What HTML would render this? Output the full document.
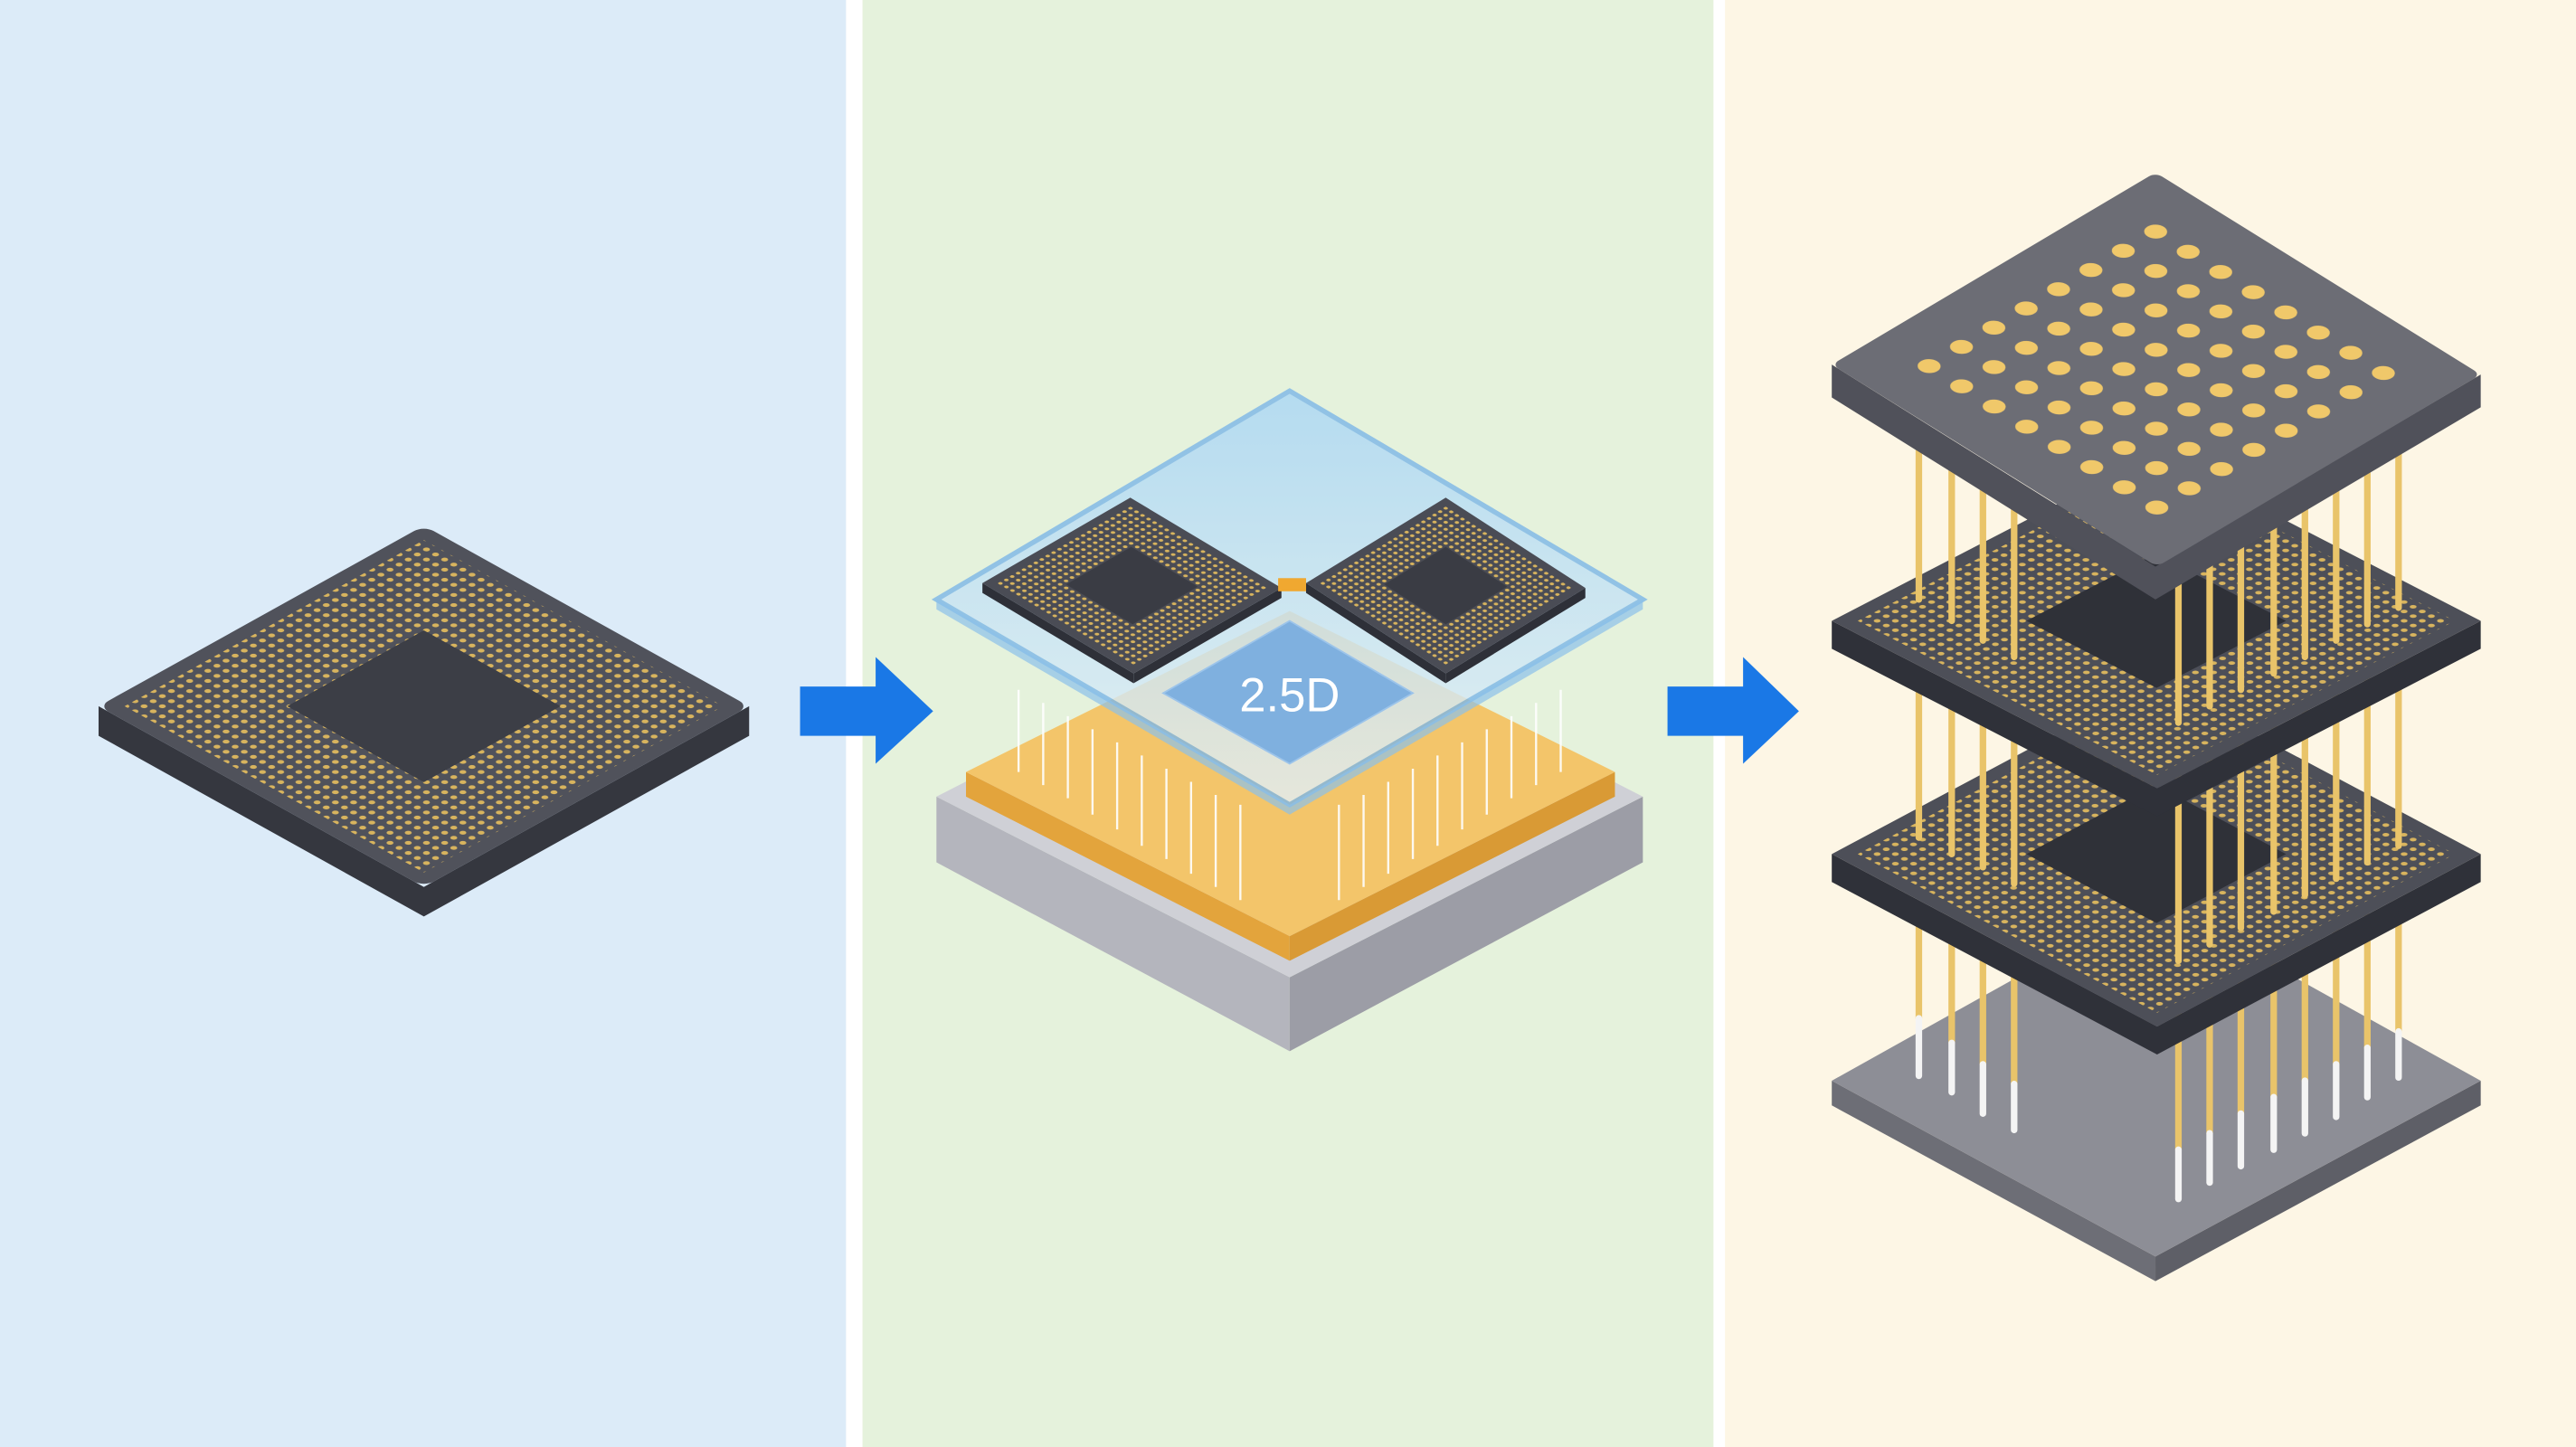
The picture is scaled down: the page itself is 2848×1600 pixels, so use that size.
<!DOCTYPE html>
<html><head><meta charset="utf-8"><style>
html,body{margin:0;padding:0;width:2848px;height:1600px;overflow:hidden;background:#fff}
svg{display:block}
</style></head><body>
<svg width="2848" height="1600" viewBox="0 0 1568 881" preserveAspectRatio="none" xmlns="http://www.w3.org/2000/svg">
<defs>
<pattern id="dots" patternUnits="userSpaceOnUse" width="0.028" height="0.028"><circle cx="0.014" cy="0.014" r="0.0075" fill="#d8b45e"/></pattern>
<pattern id="dots2" patternUnits="userSpaceOnUse" width="0.04" height="0.04"><circle cx="0.02" cy="0.02" r="0.011" fill="#d8b45e"/></pattern>
<pattern id="bigdots" patternUnits="userSpaceOnUse" width="0.1" height="0.1"><circle cx="0.05" cy="0.05" r="0.025" fill="#f0c86a"/></pattern>
<linearGradient id="glass" x1="0" y1="0" x2="0" y2="1"><stop offset="0" stop-color="#a9d6f5"/><stop offset="1" stop-color="#e3f0f8"/></linearGradient>
</defs>
<rect x="0" y="0" width="515" height="881" fill="#dcebf8"/>
<rect x="515" y="0" width="10" height="881" fill="#ffffff"/>
<rect x="525" y="0" width="518" height="881" fill="#e5f2dc"/>
<rect x="1043" y="0" width="7" height="881" fill="#ffffff"/>
<rect x="1050" y="0" width="518" height="881" fill="#fdf6e5"/>

<!-- chip 1 -->
<polygon points="60,430 258,540 456,430 456,448 258,558 60,448" fill="#35373f"/>
<g transform="matrix(198,-110,198,110,60,430)">
<rect x="0" y="0" width="1" height="1" rx="0.03" fill="#50525b"/>
<rect x="0.04" y="0.04" width="0.92" height="0.92" fill="url(#dots)"/>
<rect x="0.29" y="0.29" width="0.42" height="0.42" fill="#3c3e46"/>
</g>

<!-- arrow 1 -->
<rect x="487" y="418" width="48" height="30" fill="#1a78e6"/>
<polygon points="533,400 568,433 533,465" fill="#1a78e6"/>

<!-- panel 2 base -->
<polygon points="570,485 785,595 785,640 570,525" fill="#b4b5bd"/>
<polygon points="785,595 1000,485 1000,525 785,640" fill="#9c9da6"/>
<polygon points="570,485 785,375 1000,485 785,595" fill="#cfd0d6"/>
<polygon points="588,470 785,570 785,585 588,485" fill="#e3a43c"/>
<polygon points="785,570 983,470 983,485 785,585" fill="#d99a35"/>
<polygon points="588,470 785,372 983,470 785,570" fill="#f3c56a"/>
<g stroke="#ffffff" stroke-width="1.3" opacity="0.9" fill="none">
<polyline points="620,420 620,470"/><polyline points="635,428 635,478"/><polyline points="650,436 650,486"/><polyline points="665,444 665,496"/><polyline points="680,452 680,505"/><polyline points="695,460 695,515"/><polyline points="710,468 710,523"/><polyline points="725,476 725,532"/><polyline points="740,484 740,540"/><polyline points="755,490 755,548"/>
<polyline points="815,490 815,548"/><polyline points="830,484 830,540"/><polyline points="845,476 845,532"/><polyline points="860,468 860,523"/><polyline points="875,460 875,515"/><polyline points="890,452 890,505"/><polyline points="905,444 905,496"/><polyline points="920,436 920,486"/><polyline points="935,428 935,478"/><polyline points="950,420 950,470"/>
</g>
<!-- glass interposer -->
<polygon points="570,365 785,238 1000,365 785,490" fill="url(#glass)" opacity="0.8" stroke="#7db7e8" stroke-width="3"/>
<polygon points="570,365 785,490 785,496 570,371" fill="#8cc0ea" opacity="0.7"/>
<polygon points="785,490 1000,365 1000,371 785,496" fill="#8cc0ea" opacity="0.7"/>
<!-- chiplets -->
<polygon points="598,355 690,410 690,416 598,361" fill="#2e3038"/>
<polygon points="690,410 780,358 780,364 690,416" fill="#2e3038"/>
<g transform="matrix(90,-52,92,55,598,355)">
<rect x="0" y="0" width="1" height="1" fill="#4a4c55"/>
<rect x="0.05" y="0.05" width="0.9" height="0.9" fill="url(#dots2)"/>
<rect x="0.28" y="0.28" width="0.44" height="0.44" fill="#3a3c44"/>
</g>
<polygon points="795,355 880,410 880,416 795,361" fill="#2e3038"/>
<polygon points="880,410 965,358 965,364 880,416" fill="#2e3038"/>
<g transform="matrix(85,-52,85,55,795,355)">
<rect x="0" y="0" width="1" height="1" fill="#4a4c55"/>
<rect x="0.05" y="0.05" width="0.9" height="0.9" fill="url(#dots2)"/>
<rect x="0.28" y="0.28" width="0.44" height="0.44" fill="#3a3c44"/>
</g>
<rect x="778" y="352" width="17" height="8" fill="#f0a830"/>
<polygon points="708,422 785,378 860,422 785,465" fill="#7fb0df" stroke="#9cc4ea" stroke-width="1"/>
<text x="785" y="433" text-anchor="middle" font-family="Liberation Sans, sans-serif" font-size="29" fill="#ffffff">2.5D</text>

<!-- arrow 2 -->
<rect x="1015" y="418" width="48" height="30" fill="#1a78e6"/>
<polygon points="1061,400 1095,433 1061,465" fill="#1a78e6"/>

<!-- panel 3 bottom plate -->
<polygon points="1115,658 1312,765 1312,780 1115,673" fill="#6d6e76"/>
<polygon points="1312,765 1510,658 1510,673 1312,780" fill="#5e5f67"/>
<polygon points="1115,658 1312,548 1510,658 1312,765" fill="#8d8e96"/>
<g stroke-width="4" stroke-linecap="round">
<g stroke="#e9c46a">
<line x1="1168" y1="560" x2="1168" y2="620"/><line x1="1188" y1="570" x2="1188" y2="635"/><line x1="1207" y1="580" x2="1207" y2="648"/><line x1="1226" y1="590" x2="1226" y2="660"/>
<line x1="1326" y1="605" x2="1326" y2="700"/><line x1="1345" y1="598" x2="1345" y2="690"/><line x1="1364" y1="590" x2="1364" y2="678"/><line x1="1384" y1="582" x2="1384" y2="668"/><line x1="1403" y1="574" x2="1403" y2="658"/><line x1="1422" y1="566" x2="1422" y2="648"/><line x1="1441" y1="558" x2="1441" y2="638"/><line x1="1460" y1="550" x2="1460" y2="628"/>
</g>
<g stroke="#f4f4f4">
<line x1="1168" y1="620" x2="1168" y2="655"/><line x1="1188" y1="635" x2="1188" y2="665"/><line x1="1207" y1="648" x2="1207" y2="678"/><line x1="1226" y1="660" x2="1226" y2="688"/>
<line x1="1326" y1="700" x2="1326" y2="730"/><line x1="1345" y1="690" x2="1345" y2="720"/><line x1="1364" y1="678" x2="1364" y2="710"/><line x1="1384" y1="668" x2="1384" y2="700"/><line x1="1403" y1="658" x2="1403" y2="690"/><line x1="1422" y1="648" x2="1422" y2="680"/><line x1="1441" y1="638" x2="1441" y2="668"/><line x1="1460" y1="628" x2="1460" y2="656"/>
</g>
</g>
<!-- layer 2 -->
<polygon points="1115,520 1313,625 1510,520 1510,537 1313,642 1115,537" fill="#2f3139"/>
<g transform="matrix(197,-105,198,105,1115,520)">
<rect x="0" y="0" width="1" height="1" fill="#4d4f58"/>
<rect x="0.04" y="0.04" width="0.92" height="0.92" fill="url(#dots)"/>
<rect x="0.3" y="0.3" width="0.4" height="0.4" fill="#2f3138"/>
</g>
<g stroke="#e9c46a" stroke-width="4" stroke-linecap="round">
<line x1="1168" y1="420" x2="1168" y2="510"/><line x1="1188" y1="428" x2="1188" y2="520"/><line x1="1207" y1="436" x2="1207" y2="528"/><line x1="1226" y1="444" x2="1226" y2="538"/>
<line x1="1326" y1="440" x2="1326" y2="585"/><line x1="1345" y1="432" x2="1345" y2="575"/><line x1="1364" y1="425" x2="1364" y2="565"/><line x1="1384" y1="418" x2="1384" y2="555"/><line x1="1403" y1="410" x2="1403" y2="545"/><line x1="1422" y1="402" x2="1422" y2="535"/><line x1="1441" y1="395" x2="1441" y2="525"/><line x1="1460" y1="390" x2="1460" y2="515"/>
</g>
<!-- layer 1 -->
<polygon points="1115,378 1313,480 1510,378 1510,395 1313,497 1115,395" fill="#2f3139"/>
<g transform="matrix(197,-102,198,102,1115,378)">
<rect x="0" y="0" width="1" height="1" fill="#4d4f58"/>
<rect x="0.04" y="0.04" width="0.92" height="0.92" fill="url(#dots)"/>
<rect x="0.3" y="0.3" width="0.4" height="0.4" fill="#2f3138"/>
</g>
<g stroke="#e9c46a" stroke-width="4" stroke-linecap="round">
<line x1="1168" y1="265" x2="1168" y2="365"/><line x1="1188" y1="275" x2="1188" y2="378"/><line x1="1207" y1="285" x2="1207" y2="390"/><line x1="1226" y1="295" x2="1226" y2="400"/>
<line x1="1326" y1="320" x2="1326" y2="440"/><line x1="1345" y1="312" x2="1345" y2="430"/><line x1="1364" y1="305" x2="1364" y2="420"/><line x1="1384" y1="298" x2="1384" y2="410"/><line x1="1403" y1="290" x2="1403" y2="400"/><line x1="1422" y1="282" x2="1422" y2="390"/><line x1="1441" y1="272" x2="1441" y2="380"/><line x1="1460" y1="262" x2="1460" y2="370"/>
</g>
<!-- top plate -->
<polygon points="1115,222 1312,345 1510,228 1510,248 1312,365 1115,242" fill="#50515a"/>
<g transform="matrix(197,-117,198,123,1115,222)">
<rect x="0" y="0" width="1" height="1" rx="0.02" fill="#6c6d75"/>
<rect x="0.1" y="0.1" width="0.8" height="0.8" fill="url(#bigdots)"/>
</g>
</svg>
</body></html>
